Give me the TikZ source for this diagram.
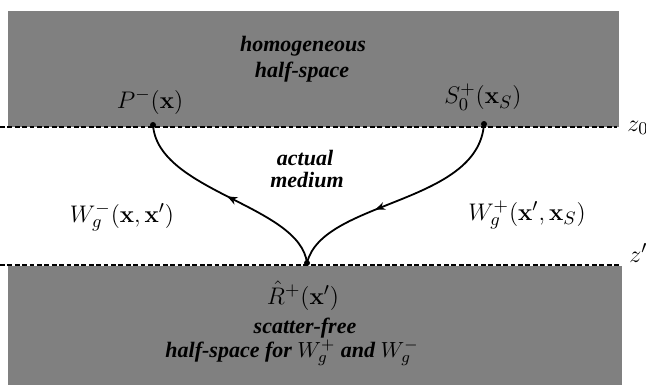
\documentclass[tikz,border=0pt]{standalone}
\usepackage[no-math]{fontspec}
\setmainfont{Liberation Serif}
\usetikzlibrary{arrows.meta,decorations.markings,positioning}
\definecolor{slab}{gray}{0.5}
\tikzset{
	dot/.style={circle, fill=black, inner sep=0pt, minimum size=3pt},
	iface/.style={line width=1pt, dash pattern=on 2.4pt off 1.3pt},
	ray/.style={line width=0.9pt, decoration={markings, mark=at position #1 with {\arrow{Stealth[length=5pt,width=4pt]}}}, postaction=decorate},
	lbl/.style={font=\fontsize{13}{15}\selectfont, inner sep=0pt, anchor=base},
	txt/.style={font=\fontsize{11}{12.5}\selectfont\bfseries\itshape, inner sep=0pt, anchor=base},
}
\begin{document}
\begin{tikzpicture}[x=0.5pt, y=-0.5pt]
		\useasboundingbox (0,0) rectangle (646,385);
		\begin{scope}
			% half-spaces
			\fill[slab] (8,11) rectangle (619,127);
			\fill[slab] (8,266) rectangle (622,385);
			\draw[iface] (0,127) -- (617,127);
			\draw[iface] (0,265) -- (620,265);
			\node[lbl, anchor=base west] (z0) at (627,131) {$z_0$};
			\node[lbl, anchor=base west] (z1) at (629,262) {$z'$};
		\end{scope}
		
		\node[txt] (hom1) at (303,52) {homogeneous};
		\node[txt] (hom2) at (302,77) {half-space};
		\node[txt] (act1) at (305,165) {actual};
		\node[txt] (act2) at (307,187) {medium};
		\node[txt] (sf1) at (305,333) {scatter-free};
		\node[txt] (sf2) at (292,357) {half-space for $W_g^+$ and $W_g^-$};
		
		\node[dot] (P) at (153,125) {};
		\node[dot] (S) at (484,124) {};
		\node[dot] (R) at (307,263) {};
		\node[lbl] (Plbl) at (150,108) {$P^-(\mathbf{x})$};
		\node[lbl] (Slbl) at (483,104) {$S_0^+(\mathbf{x}_S)$};
		\node[lbl] (Rlbl) at (303,304) {$\hat{R}^+(\mathbf{x}')$};
		\node[lbl] (Wm) at (122,222) {$W_g^-(\mathbf{x},\mathbf{x}')$};
		\node[lbl] (Wp) at (527,220) {$W_g^+(\mathbf{x}',\mathbf{x}_S)$};
		
		\draw[ray=0.5] (R.center) .. controls (300,205) and (158,192) .. (P.center);
		\draw[ray=0.62] (S.center) .. controls (478,205) and (322,200) .. (R.center);
		
	\end{tikzpicture}
\end{document}
